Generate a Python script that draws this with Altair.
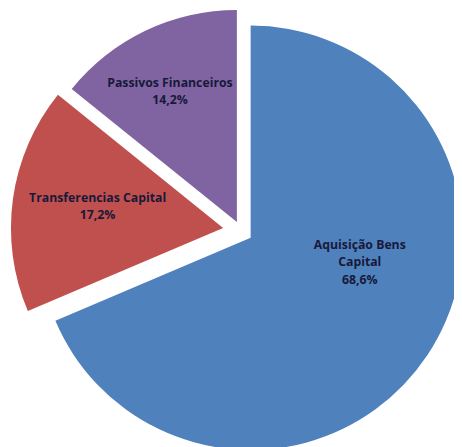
import math
import altair as alt
import pandas as pd

# ---- data ----
categories = ["Aquisição Bens Capital", "Transferencias Capital", "Passivos Financeiros"]
shares = [68.6, 17.2, 14.2]
labels = ["Aquisição Bens\nCapital\n68,6%", "Transferencias Capital\n17,2%", "Passivos Financeiros\n14,2%"]
order = [0, 1, 2]

# ---- styling ----
colors = ["#4F81BD", "#C0504D", "#8064A2"]
W, H = 454, 439
R = 216
# slice centres (exploded pie) in plot coordinates
centers = [(247, 230), (219, 220), (233, 214)]
label_radius = [108, 130, 151]
label_dxdy = [(21, -52), (1, -13), (-3, -5.5)]

df = pd.DataFrame({"categoria": categories, "valor": shares, "rotulo": labels, "ordem": order})

theta_scale = alt.Scale(domain=[0, 100], range=[0, 2 * math.pi])

base = (
    alt.Chart(df)
    .transform_window(fim="sum(valor)", sort=[alt.SortField("ordem")], frame=[None, 0])
    .transform_calculate(inicio="datum.fim - datum.valor", meio="datum.fim - datum.valor / 2")
)

layers = []
for i, cat in enumerate(categories):
    cx, cy = centers[i]
    sub = base.transform_filter(alt.datum.categoria == cat)
    arc = sub.mark_arc(radius=R, stroke=None).encode(
        x=alt.value(cx),
        y=alt.value(cy),
        theta=alt.Theta("inicio:Q", scale=theta_scale, stack=False),
        theta2="fim:Q",
        color=alt.value(colors[i]),
    )
    layers.append(arc)

for i, cat in enumerate(categories):
    cx, cy = centers[i]
    dx, dy = label_dxdy[i]
    sub = base.transform_filter(alt.datum.categoria == cat)
    txt = sub.mark_text(
        radius=label_radius[i],
        dx=dx,
        dy=dy,
        lineBreak="\n",
        lineHeight=17.5,
        font="Open Sans",
        fontWeight="bold",
        fontSize=12.5,
        color="#18193a",
        align="center",
        baseline="middle",
    ).encode(
        x=alt.value(cx),
        y=alt.value(cy),
        theta=alt.Theta("meio:Q", scale=theta_scale, stack=False),
        text="rotulo:N",
    )
    layers.append(txt)

chart = (
    alt.layer(*layers)
    .properties(width=W, height=H, padding=0, autosize=alt.AutoSizeParams(type="none"))
    .configure_view(stroke=None)
)

chart.save("out.html", embed_options={"renderer": "svg", "actions": False})
